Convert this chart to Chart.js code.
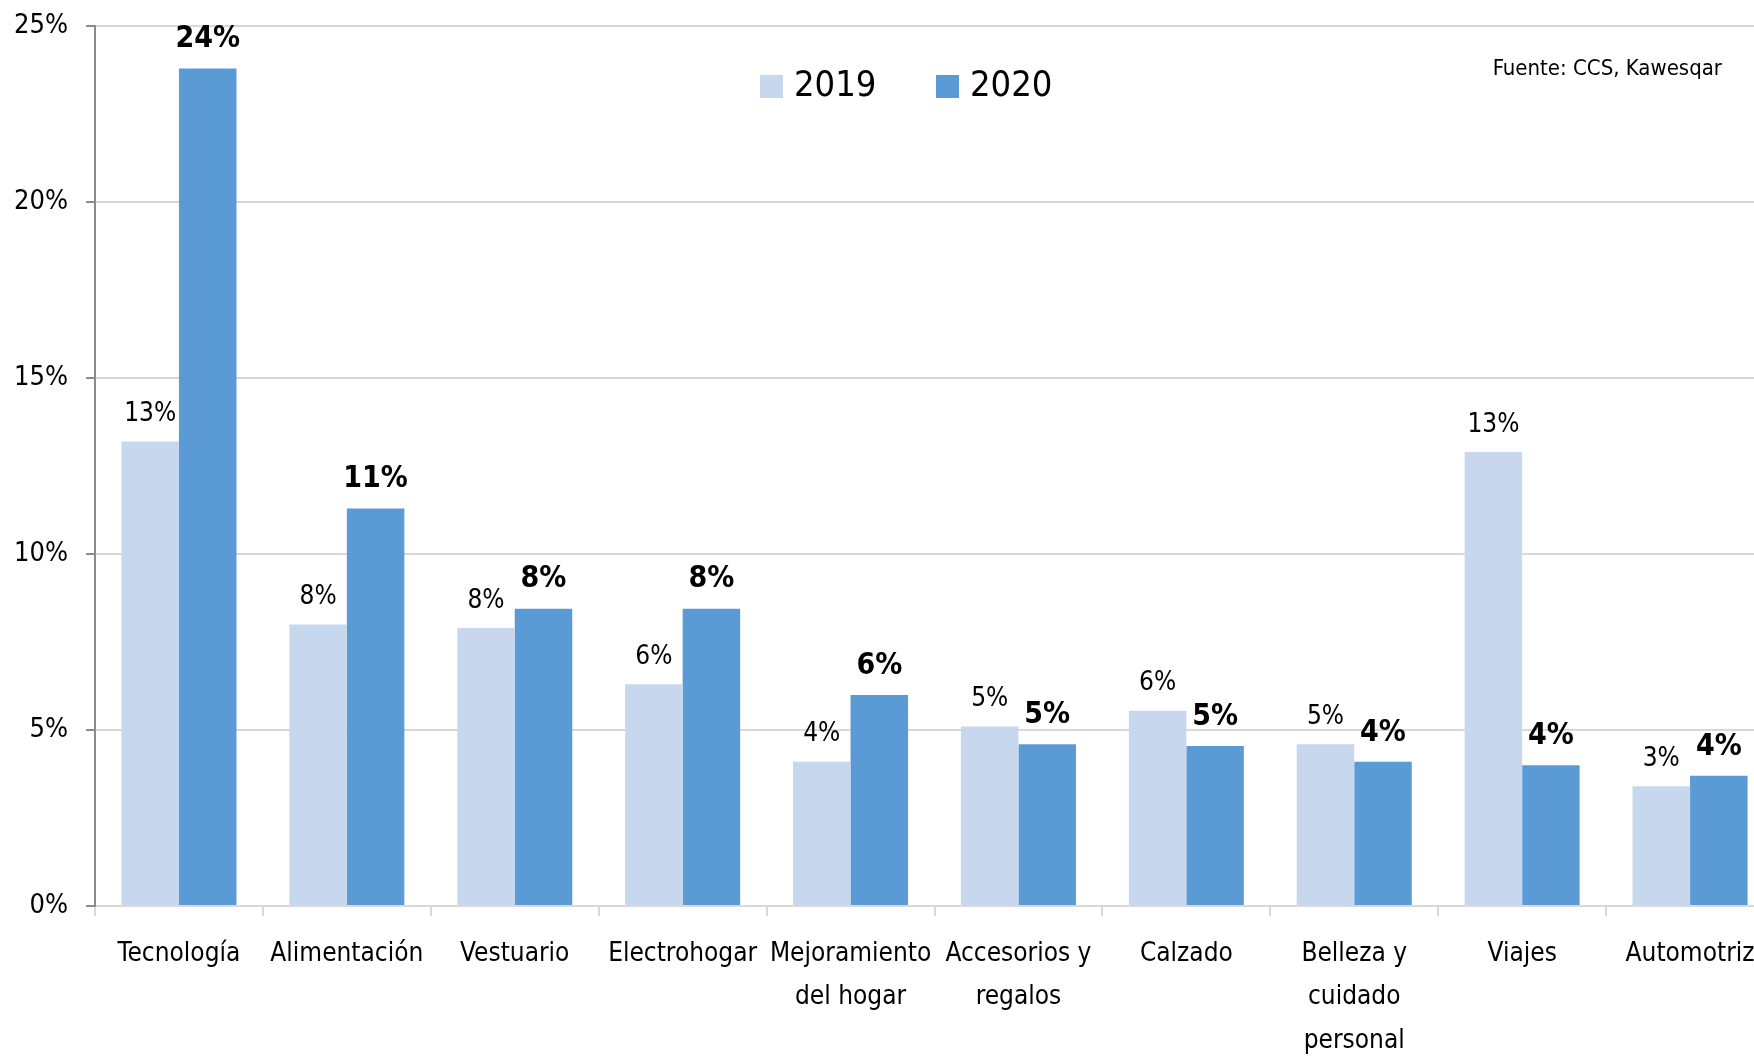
<!DOCTYPE html>
<html>
<head>
<meta charset="utf-8">
<script src="https://cdn.jsdelivr.net/npm/chart.js@4.4.1/dist/chart.umd.min.js"></script>
<style>
  html, body { margin: 0; padding: 0; background: #fff; overflow: hidden; }
  canvas { display: block; }
</style>
</head>
<body>
<canvas id="ventas" width="1774" height="1058"></canvas>
<script>
const categorias = [
  "Tecnología",
  "Alimentación",
  "Vestuario",
  "Electrohogar",
  ["Mejoramiento", "del hogar"],
  ["Accesorios y", "regalos"],
  "Calzado",
  ["Belleza y", "cuidado", "personal"],
  "Viajes",
  "Automotriz",
];
const serie2019 = [13.2, 8.0, 7.9, 6.3, 4.1, 5.1, 5.55, 4.6, 12.9, 3.4];
const serie2020 = [23.8, 11.3, 8.45, 8.45, 6.0, 4.6, 4.55, 4.1, 4.0, 3.7];
const yTicks = [0, 5, 10, 15, 20, 25];

const FONT = "'Liberation Sans Narrow', 'DejaVu Sans Condensed', 'Arial Narrow', sans-serif";

// etiquetas de valor sobre las barras
const etiquetas = {
  id: "etiquetas",
  afterDatasetsDraw(chart) {
    const ctx = chart.ctx;
    ctx.save();
    ctx.textAlign = "center";
    ctx.textBaseline = "bottom";
    ctx.fillStyle = "#000";
    chart.data.datasets.forEach((ds, i) => {
      const meta = chart.getDatasetMeta(i);
      ctx.font = i === 1 ? "bold 30px " + FONT : "26px " + FONT;
      meta.data.forEach((bar, j) => {
        ctx.fillText(Math.round(ds.data[j]) + "%", bar.x, bar.y - 14);
      });
    });
    ctx.restore();
  },
};

// leyenda y fuente dentro del área del gráfico
const leyenda = {
  id: "leyenda",
  afterDraw(chart) {
    const ctx = chart.ctx;
    ctx.save();
    ctx.textBaseline = "middle";
    ctx.font = "36px " + FONT;
    let x = 760;
    chart.data.datasets.forEach((ds) => {
      ctx.fillStyle = ds.backgroundColor;
      ctx.fillRect(x, 75, 23, 23);
      ctx.fillStyle = "#000";
      ctx.textAlign = "left";
      ctx.fillText(ds.label, x + 34, 87);
      x += 176;
    });
    ctx.font = "22px " + FONT;
    ctx.textAlign = "right";
    ctx.fillText("Fuente: CCS, Kawesqar", 1722, 69);
    ctx.restore();
  },
};

new Chart(document.getElementById("ventas"), {
  type: "bar",
  data: {
    labels: categorias,
    datasets: [
      { label: "2019", data: serie2019, backgroundColor: "#C6D7EE" },
      { label: "2020", data: serie2020, backgroundColor: "#5B9BD5" },
    ],
  },
  options: {
    responsive: false,
    animation: false,
    layout: { padding: { top: 0, right: 0, left: 0, bottom: 0 } },
    datasets: { bar: { categoryPercentage: 0.685, barPercentage: 1 } },
    plugins: { legend: { display: false }, tooltip: { enabled: false } },
    scales: {
      x: {
        afterFit: (axis) => { axis.height = 152; },
        grid: {
          drawOnChartArea: false,
          tickLength: 10,
          color: "#d9d9d9",
          lineWidth: 2,
        },
        border: { color: "#d9d9d9", width: 2 },
        ticks: {
          color: "#000",
          padding: 16,
          maxRotation: 0,
          autoSkip: false,
          font: { family: FONT, size: 26, lineHeight: 1.68 },
        },
      },
      y: {
        min: 0,
        max: 25,
        afterFit: (axis) => { axis.width = 95; },
        afterBuildTicks: (axis) => { axis.ticks = yTicks.map((v) => ({ value: v })); },
        grid: {
          color: "#d9d9d9",
          lineWidth: 2,
          tickLength: 9,
          tickColor: "#8c8c8c",
        },
        border: { color: "#8c8c8c", width: 2 },
        ticks: {
          color: "#000",
          padding: 18,
          font: { family: FONT, size: 27, lineHeight: 0.62 },
          callback: (v) => v + "%",
        },
      },
    },
  },
  plugins: [etiquetas, leyenda],
});
</script>
</body>
</html>
